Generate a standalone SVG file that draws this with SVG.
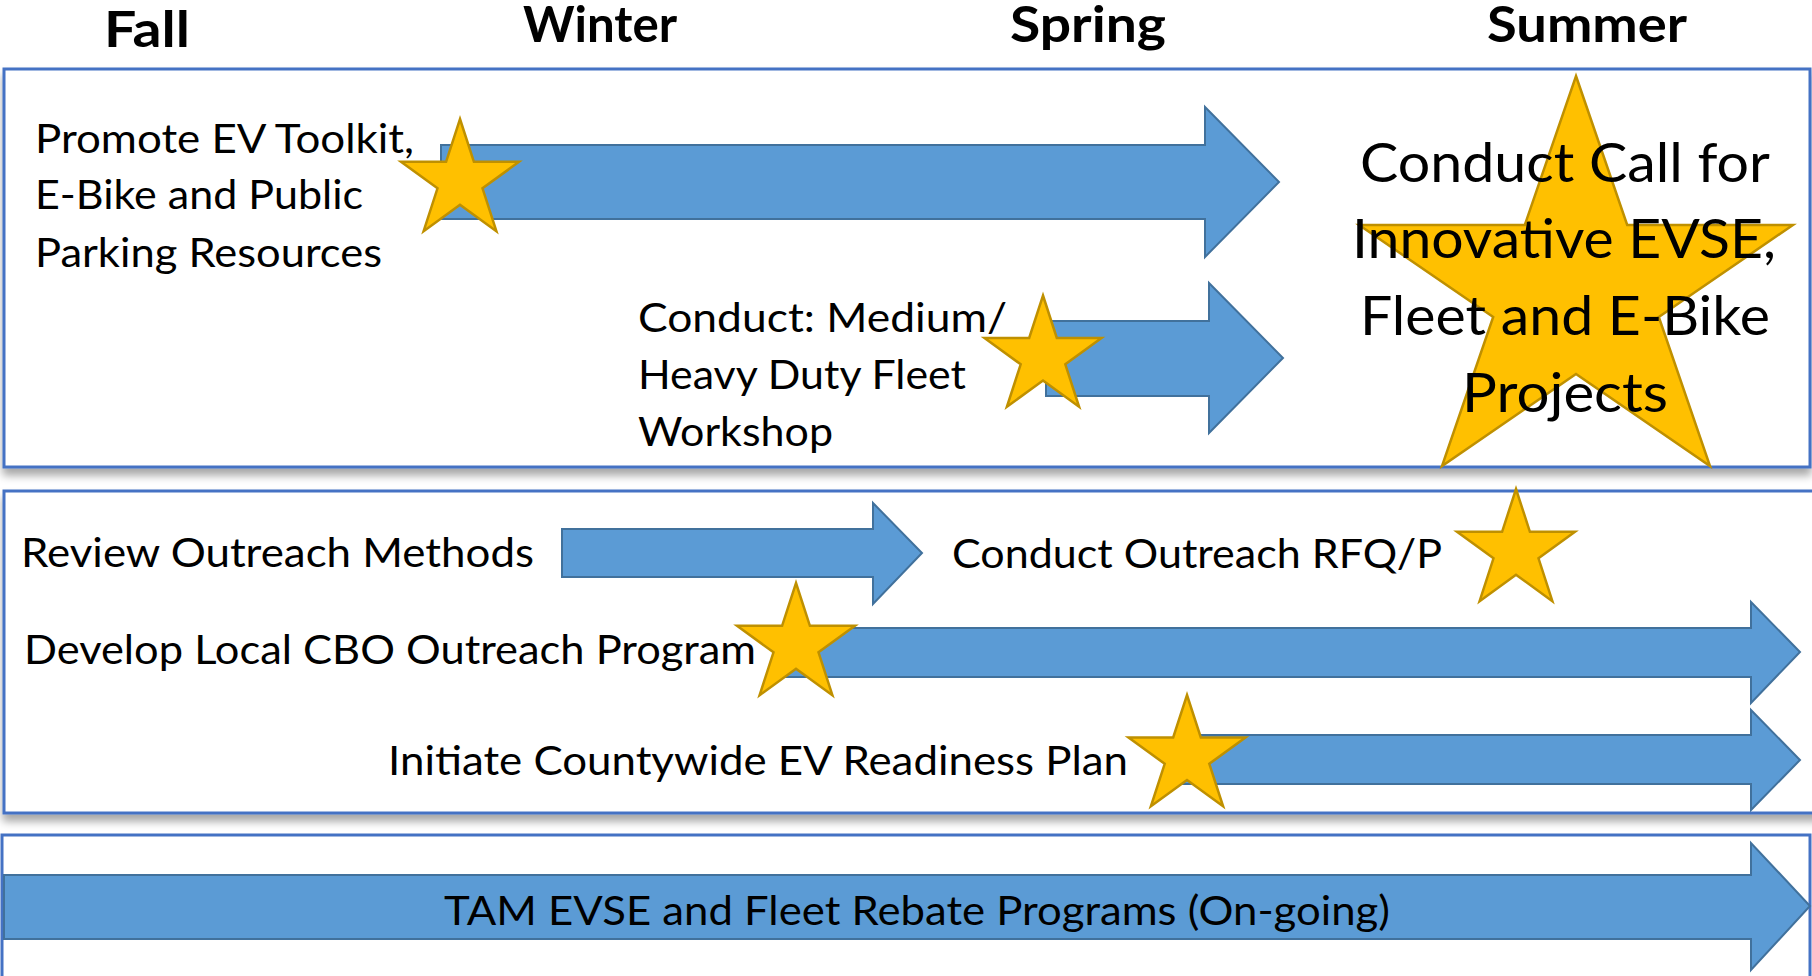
<svg xmlns="http://www.w3.org/2000/svg" width="1812" height="976" viewBox="0 0 1812 976">
<defs>
<filter id="sh" x="-5%" y="-5%" width="110%" height="120%">
<feDropShadow dx="0" dy="7" stdDeviation="4" flood-color="#000" flood-opacity="0.35"/>
</filter>
<style>
.panel{fill:#fff;stroke:#4472C4;stroke-width:3}
.arrow{fill:#5B9BD5;stroke:#41719C;stroke-width:2}
.star{fill:#FFC000;stroke:#BF9000;stroke-width:2.5;stroke-linejoin:miter}
.hd{font-family:Lato,"Open Sans","Liberation Sans",sans-serif;font-weight:700;font-size:49px;fill:#000}
.t{font-family:Lato,"Open Sans","Liberation Sans",sans-serif;font-size:40px;fill:#000}
.big{font-family:Lato,"Open Sans","Liberation Sans",sans-serif;font-size:54px;fill:#000}
</style>
</defs>
<rect width="1812" height="976" fill="#fff"/>
<g id="headers">
<text class="hd" x="104" y="47" textLength="86" lengthAdjust="spacingAndGlyphs">Fall</text>
<text class="hd" x="523" y="42" textLength="154" lengthAdjust="spacingAndGlyphs">Winter</text>
<text class="hd" x="1010" y="42" textLength="156" lengthAdjust="spacingAndGlyphs">Spring</text>
<text class="hd" x="1487" y="42" textLength="200" lengthAdjust="spacingAndGlyphs">Summer</text>
</g>
<g id="panels">
<rect id="panel1" class="panel" x="4" y="69" width="1806" height="398" filter="url(#sh)"/>
<rect id="panel2" class="panel" x="4" y="491" width="1830" height="322" filter="url(#sh)"/>
<rect id="panel3" class="panel" x="2" y="835" width="1808" height="200"/>
</g>
<g id="promote">
<polygon class="arrow" points="441,145 1205,145 1205,107 1279,182 1205,257 1205,219 441,219"/>
<text class="t" x="35" y="153" textLength="379" lengthAdjust="spacingAndGlyphs">Promote EV Toolkit,</text>
<text class="t" x="35" y="209" textLength="328" lengthAdjust="spacingAndGlyphs">E-Bike and Public</text>
<text class="t" x="35" y="267" textLength="347" lengthAdjust="spacingAndGlyphs">Parking Resources</text>
<polygon class="star" points="460,119 473.9,161.8 519,161.8 482.5,188.3 496.4,231.2 460,204.7 423.6,231.2 437.5,188.3 401,161.8 446.1,161.8"/>
</g>
<g id="fleet-workshop">
<polygon class="arrow" points="1046,321 1209,321 1209,283 1283,358 1209,433 1209,396 1046,396"/>
<text class="t" x="638" y="332" textLength="369" lengthAdjust="spacingAndGlyphs">Conduct: Medium/</text>
<text class="t" x="638" y="389" textLength="328" lengthAdjust="spacingAndGlyphs">Heavy Duty Fleet</text>
<text class="t" x="638" y="446" textLength="195" lengthAdjust="spacingAndGlyphs">Workshop</text>
<polygon class="star" points="1043,295.5 1056.8,338 1101.5,338 1065.3,364.3 1079.1,406.8 1043,380.5 1006.9,406.8 1020.7,364.3 984.5,338 1029.2,338"/>
</g>
<g id="call-projects">
<polygon class="star" points="1576,76 1627.2,225 1792.9,225 1658.8,317 1710,466 1576,374 1442,466 1493.2,317 1359.1,225 1524.8,225"/>
<text class="big" x="1360" y="182" textLength="410" lengthAdjust="spacingAndGlyphs">Conduct Call for</text>
<text class="big" x="1352" y="258" textLength="424" lengthAdjust="spacingAndGlyphs">Innovative EVSE,</text>
<text class="big" x="1360" y="335" textLength="410" lengthAdjust="spacingAndGlyphs">Fleet and E-Bike</text>
<text class="big" x="1462" y="412" textLength="206" lengthAdjust="spacingAndGlyphs">Projects</text>
</g>
<g id="review-outreach">
<polygon class="arrow" points="562,529 873,529 873,503 922,553 873,604 873,577 562,577"/>
<text class="t" x="21" y="567" textLength="513" lengthAdjust="spacingAndGlyphs">Review Outreach Methods</text>
</g>
<g id="outreach-rfq">
<text class="t" x="952" y="568" textLength="490" lengthAdjust="spacingAndGlyphs">Conduct Outreach RFQ/P</text>
<polygon class="star" points="1516,489 1529.9,531.8 1575,531.8 1538.5,558.3 1552.4,601.2 1516,574.7 1479.6,601.2 1493.5,558.3 1457,531.8 1502.1,531.8"/>
</g>
<g id="cbo-program">
<polygon class="arrow" points="780,628 1751,628 1751,602 1800,652 1751,703 1751,677 780,677"/>
<text class="t" x="24" y="664" textLength="732" lengthAdjust="spacingAndGlyphs">Develop Local CBO Outreach Program</text>
<polygon class="star" points="796,583 809.9,625.8 855,625.8 818.5,652.3 832.4,695.2 796,668.7 759.6,695.2 773.5,652.3 737,625.8 782.1,625.8"/>
</g>
<g id="readiness-plan">
<polygon class="arrow" points="1180,735 1751,735 1751,710 1800,760 1751,810 1751,784 1180,784"/>
<text class="t" x="388" y="775" textLength="740" lengthAdjust="spacingAndGlyphs">Initiate Countywide EV Readiness Plan</text>
<polygon class="star" points="1187,695 1200.8,737.5 1245.5,737.5 1209.3,763.8 1223.1,806.3 1187,780 1150.9,806.3 1164.7,763.8 1128.5,737.5 1173.2,737.5"/>
</g>
<g id="rebate-programs">
<polygon class="arrow" points="4,875 1751,875 1751,843 1810,906 1751,970 1751,939 4,939"/>
<text class="t" x="444" y="925" textLength="946" lengthAdjust="spacingAndGlyphs">TAM EVSE and Fleet Rebate Programs (On-going)</text>
</g>
<g id="connectors"/>
</svg>
